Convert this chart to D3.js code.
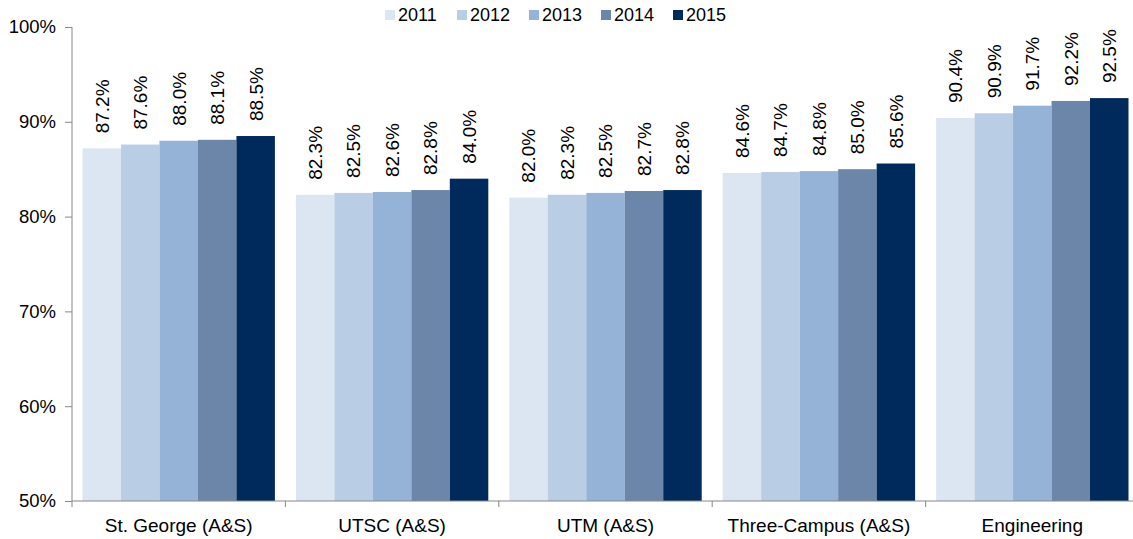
<!DOCTYPE html>
<head>
<meta charset="utf-8">
<style>
body { margin: 0; background: #fff; }
text { font-family: Arial, 'Liberation Sans', sans-serif; fill: #000; }
.axis path, .axis line { stroke: #888; }
</style>
</head>
<body>
<svg width="1133" height="539"></svg>
<script src="https://cdn.jsdelivr.net/npm/d3@7/dist/d3.min.js"></script>
<script>

var categories = ["St. George (A&S)", "UTSC (A&S)", "UTM (A&S)", "Three-Campus (A&S)", "Engineering"];
var years = ["2011", "2012", "2013", "2014", "2015"];
var v2011 = [87.2, 82.3, 82.0, 84.6, 90.4];
var v2012 = [87.6, 82.5, 82.3, 84.7, 90.9];
var v2013 = [88.0, 82.6, 82.5, 84.8, 91.7];
var v2014 = [88.1, 82.8, 82.7, 85.0, 92.2];
var v2015 = [88.5, 84.0, 82.8, 85.6, 92.5];
var yTicks = [50, 60, 70, 80, 90, 100];
var colors = ["#dce6f2", "#b9cde5", "#95b3d7", "#6b86a8", "#002a5c"];

var series = [v2011, v2012, v2013, v2014, v2015];

var svg = d3.select("svg"),
    margin = {left: 72, top: 27},
    plotW = 213.4 * 5,
    plotH = 474;

var x0 = d3.scaleBand().domain(categories).range([0, plotW]).paddingInner(0).paddingOuter(0);
var x1 = d3.scaleBand().domain(years).range([10.5, x0.bandwidth() - 10.5]).padding(0);
var y = d3.scaleLinear().domain([50, 100]).range([plotH, 0]);
var color = d3.scaleOrdinal().domain(years).range(colors);

var g = svg.append("g")
    .attr("transform", "translate(" + margin.left + "," + margin.top + ")");

var rows = [];
categories.forEach(function(c, i) {
  years.forEach(function(yr, j) {
    rows.push({cat: c, year: yr, value: series[j][i]});
  });
});

g.selectAll(".bar")
  .data(rows)
  .enter().append("rect")
    .attr("class", "bar")
    .attr("x", function(d) { return x0(d.cat) + x1(d.year); })
    .attr("y", function(d) { return y(d.value); })
    .attr("width", x1.bandwidth())
    .attr("height", function(d) { return plotH - y(d.value); })
    .attr("fill", function(d) { return color(d.year); });

g.selectAll(".val")
  .data(rows)
  .enter().append("text")
    .attr("class", "val")
    .attr("transform", function(d) {
      var cx = x0(d.cat) + x1(d.year) + x1.bandwidth() / 2;
      return "translate(" + cx + "," + (y(d.value) - 15) + ") rotate(-90)";
    })
    .attr("dy", "0.36em")
    .style("font-size", "19px")
    .text(function(d) { return d.value.toFixed(1) + "%"; });

// y axis
var yAxis = g.append("g")
    .attr("class", "axis")
    .call(d3.axisLeft(y).tickValues(yTicks).tickSize(7).tickPadding(9)
      .tickFormat(function(d) { return d + "%"; }));
yAxis.select(".domain").attr("d", "M0,0V" + plotH);
yAxis.selectAll("text").style("font-size", "18.5px").attr("fill", "#000");

// x axis
var xAxis = g.append("g")
    .attr("class", "axis")
    .attr("transform", "translate(0," + plotH + ")");
xAxis.append("line")
    .attr("x1", 0).attr("x2", plotW);
var bounds = [0].concat(categories.map(function(c) { return x0(c) + x0.bandwidth(); }));
xAxis.selectAll(".tk")
  .data(bounds)
  .enter().append("line")
    .attr("x1", function(d) { return d; })
    .attr("x2", function(d) { return d; })
    .attr("y1", 0).attr("y2", 6);
xAxis.selectAll(".cat")
  .data(categories)
  .enter().append("text")
    .attr("x", function(d) { return x0(d) + x0.bandwidth() / 2; })
    .attr("y", 31)
    .attr("text-anchor", "middle")
    .style("font-size", "19px")
    .text(function(d) { return d; });

// legend
var legend = svg.append("g").attr("transform", "translate(385,10)");
var item = legend.selectAll(".lg")
  .data(years)
  .enter().append("g")
    .attr("transform", function(d, i) { return "translate(" + (i * 72) + ",0)"; });
item.append("rect")
    .attr("width", 10).attr("height", 10)
    .attr("fill", function(d) { return color(d); });
item.append("text")
    .attr("x", 13).attr("y", 11)
    .style("font-size", "18px")
    .text(function(d) { return d; });

</script>
</body>
